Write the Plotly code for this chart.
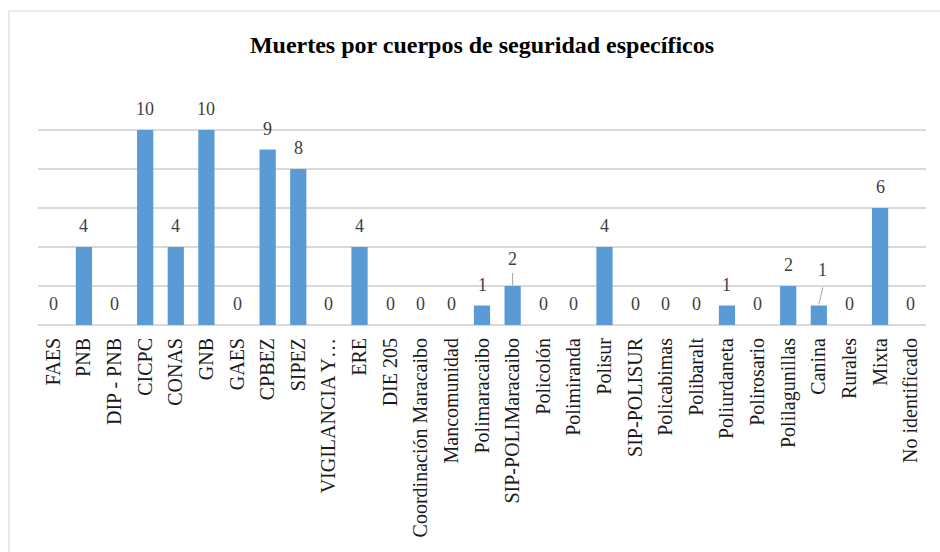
import plotly.graph_objects as go

categories = ["FAES", "PNB", "DIP - PNB", "CICPC", "CONAS", "GNB", "GAES", "CPBEZ", "SIPEZ",
              "VIGILANCIA Y…", "ERE", "DIE 205", "Coordinación Maracaibo", "Mancomunidad",
              "Polimaracaibo", "SIP-POLIMaracaibo", "Policolón", "Polimiranda", "Polisur",
              "SIP-POLISUR", "Policabimas", "Polibaralt", "Poliurdaneta", "Polirosario",
              "Polilagunillas", "Canina", "Rurales", "Mixta", "No identificado"]
values = [0, 4, 0, 10, 4, 10, 0, 9, 8, 0, 4, 0, 0, 0, 1, 2, 0, 0, 4, 0, 0, 0, 1, 0, 2, 1, 0, 6, 0]
title_text = "Muertes por cuerpos de seguridad específicos"

FONT = "Liberation Serif"
W, H = 940, 552

fig = go.Figure()
fig.add_trace(go.Bar(
    x=categories, y=values,
    marker=dict(color="#5b9bd5", line=dict(width=0)),
    hoverinfo="x+y",
))

# data labels; two labels use leader lines (offset in pixels)
leader = {"SIP-POLIMaracaibo": (0, 6), "Canina": (4, 15)}
annotations = []
shapes = []
for c, v in zip(categories, values):
    dx, dy = leader.get(c, (0, 0))
    annotations.append(dict(
        x=c, y=v, xref="x", yref="y", text=str(v), showarrow=False,
        yanchor="bottom", xanchor="center", yshift=9 + dy, xshift=dx,
        font=dict(family=FONT, size=18, color="#404040"),
    ))
    if c in leader:
        shapes.append(dict(
            type="line", xref="x", yref="y", xsizemode="pixel", ysizemode="pixel",
            xanchor=c, yanchor=v, x0=0, x1=dx, y0=1, y1=13 if dx == 0 else 18,
            line=dict(color="#a6a6a6", width=1),
        ))

# outer chart border
shapes.append(dict(type="rect", xref="paper", yref="paper",
                   x0=-29 / 888, x1=1.2, y0=-1, y1=(91 - 11) / 234 + 1,
                   line=dict(color="#d9d9d9", width=1.2), layer="below"))

fig.update_layout(
    width=W, height=H,
    margin=dict(l=38, r=14, t=91, b=227, autoexpand=False),
    paper_bgcolor="white", plot_bgcolor="white",
    bargap=0.47,
    showlegend=False,
    title=dict(text="<b>" + title_text + "</b>", x=482 / W, xanchor="center",
               y=1 - 45 / H, yanchor="middle", yref="container",
               font=dict(family=FONT, size=24, color="#000000")),
    xaxis=dict(tickangle=-90, tickfont=dict(family=FONT, size=20, color="#1a1a1a"),
               showgrid=False, showline=False, ticks="", ticklabelstandoff=8,
               automargin=False, fixedrange=True),
    yaxis=dict(range=[0, 12], dtick=2, showgrid=True, gridcolor="#d9d9d9", gridwidth=1.5,
               showticklabels=False, zeroline=True, zerolinecolor="#d9d9d9", zerolinewidth=1.5,
               showline=False, automargin=False, fixedrange=True),
    annotations=annotations,
    shapes=shapes,
)

fig.write_html("out.html", config={"displayModeBar": False},
               post_script="document.body.style.margin='0';document.body.style.overflow='hidden';")
